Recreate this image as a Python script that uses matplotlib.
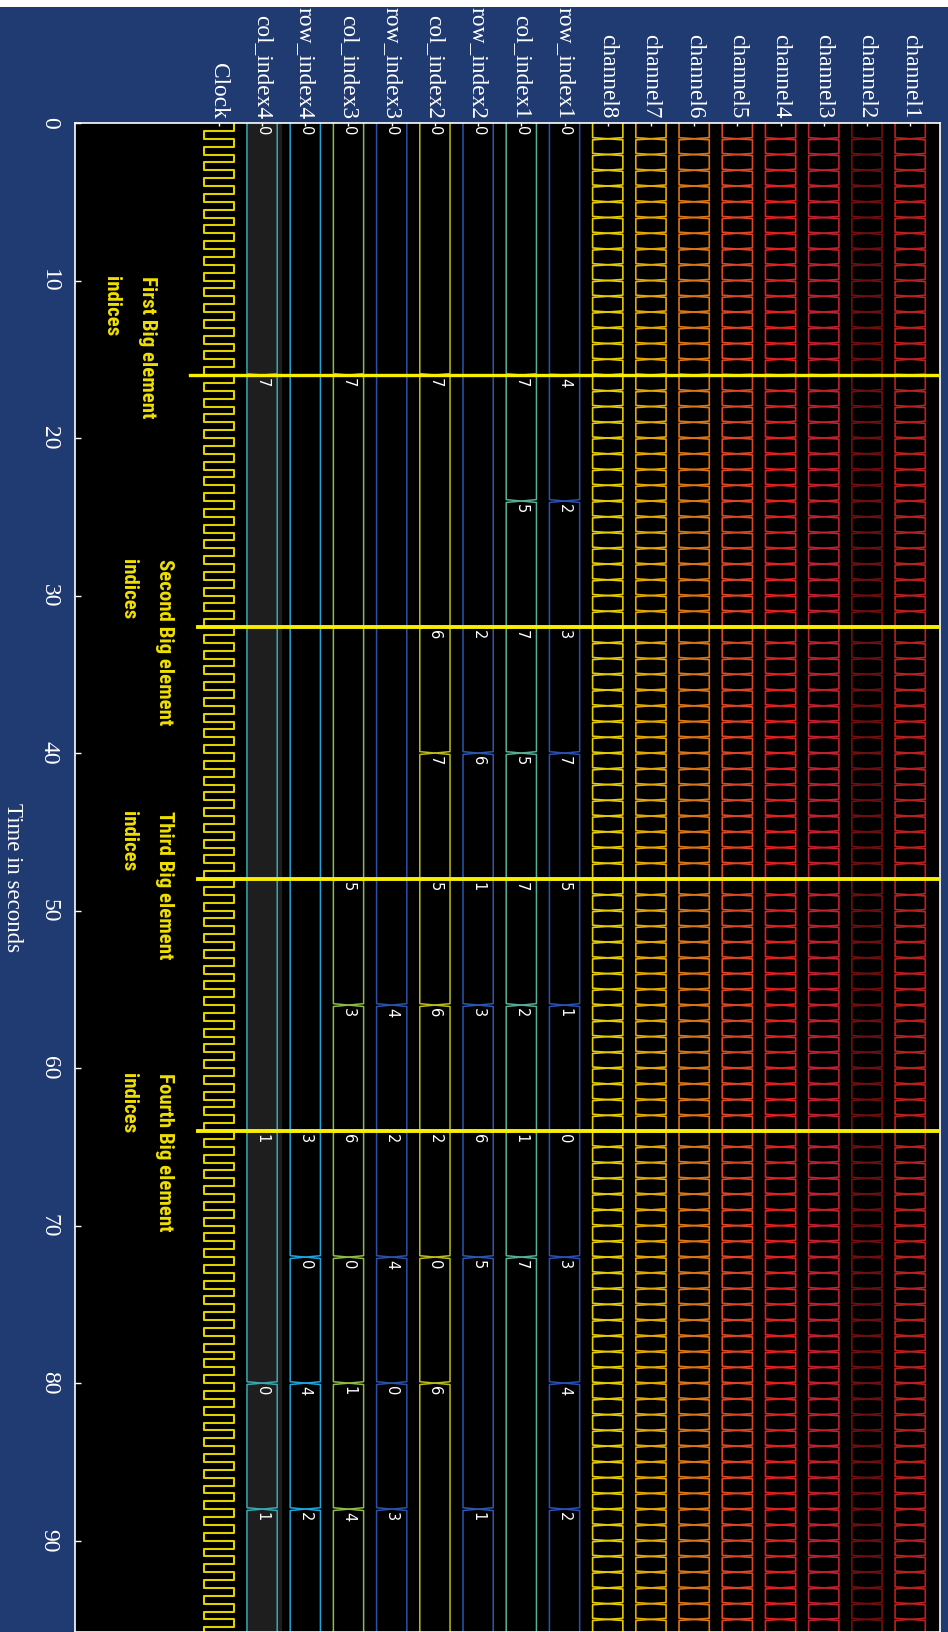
import numpy as np
import matplotlib
matplotlib.use('Agg')
import matplotlib.pyplot as plt
from matplotlib import font_manager
from matplotlib.patches import Rectangle

# Signals from left to right
signal_names = ['Clock', 'col_index4', 'row_index4', 'col_index3', 'row_index3',
                'col_index2', 'row_index2', 'col_index1', 'row_index1',
                'channel8', 'channel7', 'channel6', 'channel5',
                'channel4', 'channel3', 'channel2', 'channel1']

# Index buses: change times (s) and the value held after each change
col_index4_t = [0, 16, 64, 80, 88]
col_index4_v = [0, 7, 1, 0, 1]
row_index4_t = [0, 64, 72, 80, 88]
row_index4_v = [0, 3, 0, 4, 2]
col_index3_t = [0, 16, 48, 56, 64, 72, 80, 88]
col_index3_v = [0, 7, 5, 3, 6, 0, 1, 4]
row_index3_t = [0, 56, 64, 72, 80, 88]
row_index3_v = [0, 4, 2, 4, 0, 3]
col_index2_t = [0, 16, 32, 40, 48, 56, 64, 72, 80]
col_index2_v = [0, 7, 6, 7, 5, 6, 2, 0, 6]
row_index2_t = [0, 32, 40, 48, 56, 64, 72, 88]
row_index2_v = [0, 2, 6, 1, 3, 6, 5, 1]
col_index1_t = [0, 16, 24, 32, 40, 48, 56, 64, 72]
col_index1_v = [0, 7, 5, 7, 5, 7, 2, 1, 7]
row_index1_t = [0, 16, 24, 32, 40, 48, 56, 64, 72, 80, 88]
row_index1_v = [0, 4, 2, 3, 7, 5, 1, 0, 3, 4, 2]

# Clock and channel buses toggle / change once per period
clock_period = 1.0
channel_period = 1.0
t_end = 96.0

# Big element markers
marker_times = [16, 32, 48, 64]
marker_text_t = [9.7, 27.7, 43.7, 60.3]
marker_labels = ['First Big element\nindices', 'Second Big element\nindices',
                 'Third Big element\nindices', 'Fourth Big element\nindices']

colors = {
    'Clock': '#e2d000',
    'col_index4': '#3aa8b0', 'row_index4': '#1ea6dc',
    'col_index3': '#8cbc48', 'row_index3': '#2a52a8',
    'col_index2': '#bcbc1c', 'row_index2': '#2a58b0',
    'col_index1': '#58ae96', 'row_index1': '#2a50b6',
    'channel8': '#e6cc00', 'channel7': '#e6a800', 'channel6': '#dc7618',
    'channel5': '#de4626', 'channel4': '#e62020', 'channel3': '#c4202e',
    'channel2': '#6e1010', 'channel1': '#bc2020',
}

bus_data = {
    'col_index4': (col_index4_t, col_index4_v), 'row_index4': (row_index4_t, row_index4_v),
    'col_index3': (col_index3_t, col_index3_v), 'row_index3': (row_index3_t, row_index3_v),
    'col_index2': (col_index2_t, col_index2_v), 'row_index2': (row_index2_t, row_index2_v),
    'col_index1': (col_index1_t, col_index1_v), 'row_index1': (row_index1_t, row_index1_v),
}

bg = '#203a72'
plt.rcParams['font.family'] = ['Liberation Serif', 'DejaVu Serif']

# condensed face for the marker captions, if one is around
installed = {f.name for f in font_manager.fontManager.ttflist}
narrow = 'DejaVu Sans'
for cand in ['Liberation Sans Narrow', 'Roboto Condensed', 'Open Sans Condensed', 'DejaVu Sans Condensed']:
    if cand in installed:
        narrow = cand
        break
cap_size = 15 if narrow != 'DejaVu Sans' else 12


def bus_edges(i, times, w, h):
    # two edge lines that swap sides at every change -> flat X at each transition
    xa, ya = [i - w], [times[0]]
    side = -1
    for t in times[1:]:
        xa += [i + side * w, i - side * w]
        ya += [t - h, t + h]
        side = -side
    xa.append(i + side * w)
    ya.append(t_end)
    xa = np.array(xa)
    return xa, np.array(ya), 2 * i - xa


fig = plt.figure(figsize=(9.48, 16.32), dpi=100, facecolor=bg)
ax = fig.add_axes([75 / 948, 0.0, 865 / 948, 1509 / 1632])
ax.set_facecolor('black')

w = 0.35

# highlighted lane
ax.axvspan(0.65, 1.44, color='#1e1e1e', zorder=0)

for i, name in enumerate(signal_names):
    c = colors[name]
    if name == 'Clock':
        edges = np.arange(0, t_end + clock_period, clock_period / 2)
        xs, ys = [], []
        for k in range(len(edges) - 1):
            x = i + w if k % 2 == 0 else i - w
            xs += [x, x]
            ys += [edges[k], edges[k + 1]]
        ax.plot(xs, ys, color=c, lw=1.5, zorder=2)
    elif name.startswith('channel'):
        times = list(np.arange(0, t_end + channel_period, channel_period))
        xa, ya, xb = bus_edges(i, times, w, 0.07)
        ax.plot(xa, ya, color=c, lw=1.2, zorder=2)
        ax.plot(xb, ya, color=c, lw=1.2, zorder=2)
    else:
        times, vals = bus_data[name]
        xa, ya, xb = bus_edges(i, times, w, 0.09)
        ax.plot(xa, ya, color=c, lw=1.1, zorder=2)
        ax.plot(xb, ya, color=c, lw=1.1, zorder=2)
        for t, v in zip(times, vals):
            ax.text(i, t + 0.2, str(v), color='white', fontsize=10.5, family='DejaVu Sans',
                    rotation=-90, rotation_mode='anchor', ha='left', va='center', zorder=3)

# Big element markers and captions
for k, (t, tt, lab) in enumerate(zip(marker_times, marker_text_t, marker_labels)):
    x0 = -0.67 if k == 0 else -0.49
    ax.plot([x0, 16.75], [t, t], color='#f8ee00', lw=2.4 if k == 0 else 2.8, zorder=4)
    ax.text(-1.44 if k == 0 else -1.04, tt, lab, color='#f0e000', fontsize=cap_size,
            family=narrow, fontweight='bold', rotation=-90, rotation_mode='anchor',
            ha='left', va='top', linespacing=2.1, zorder=4)

ax.set_xlim(-3.33, 16.69)
ax.set_ylim(95.8, 0)

ax.set_xticks(range(len(signal_names)))
ax.set_xticklabels(signal_names)
ax.xaxis.tick_top()
ax.tick_params(axis='x', direction='in', length=2.5, width=1, colors='white',
               labelrotation=-90, labelsize=16.8, pad=3)
for lab in ax.get_xticklabels():
    lab.set_va('bottom')
    lab.set_ha('center')

ax.set_yticks(range(0, 100, 10))
ax.tick_params(axis='y', direction='in', length=4, width=1, colors='white',
               labelrotation=-90, labelsize=17, pad=11)
for lab in ax.get_yticklabels():
    lab.set_va('center')

ax.set_ylabel('Time in seconds', color='white', fontsize=16.5, rotation=-90, va='top')
ax.yaxis.set_label_coords(-0.06, 0.5)

for s in ax.spines.values():
    s.set_color('white')
    s.set_linewidth(1.2)

# thin white strip along the top edge
fig.add_artist(Rectangle((0, 1 - 7 / 1632), 1, 7 / 1632, transform=fig.transFigure,
                         facecolor='white', edgecolor='none', zorder=10))

fig.savefig('out.png', dpi=100, facecolor=bg)
